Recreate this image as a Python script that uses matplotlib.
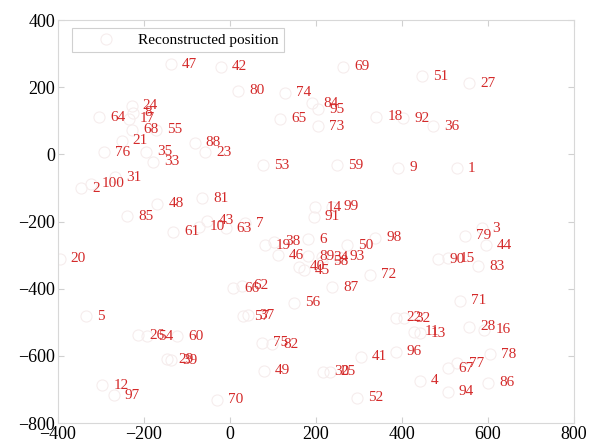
import matplotlib
matplotlib.use('Agg')
import matplotlib.pyplot as plt

plt.rcParams['font.family'] = ['Liberation Serif', 'DejaVu Serif']

# Reconstructed node positions, node ids 1..100
ids = list(range(1, 101))
xs = [527, -347, 585, 442, -334, 182, 35, -226, 391, -72,
      428, -297, 441, 198, 508, 591, -235, 340, 81, -396,
      -252, 385, -57, -229, 232, -213, 556, 556, -146, 217,
      -268, 405, -178, 215, -196, 473, 42, 102, -138, 160,
      304, -22, -53, 595, 172, 112, -138, -169, 79, 271,
      447, 296, 77, -192, -173, 148, 31, 215, 248, -123,
      -132, 29, -10, -305, 116, 8, 506, -227, 263, -30,
      535, 326, 205, 127, 75, -293, 529, 605, 547, 19,
      -65, 98, 577, 191, -239, 600, 238, -82, 182, 484,
      195, 403, 253, 506, 205, 385, -270, 337, 238, -324]
ys = [-42, -101, -220, -674, -482, -253, -205, 124, -40, -216,
      -528, -687, -533, -158, -310, -523, 106, 112, -270, -311,
      40, -487, 7, 144, -647, -538, 211, -513, -610, -648,
      -68, -488, -22, -307, 8, 84, -479, -260, -613, -335,
      -603, 261, -198, -270, -345, -300, 268, -147, -645, -270,
      233, -725, -32, -541, 74, -442, -482, -320, -32, -541,
      -230, -392, -220, 110, 106, -399, -637, 74, 261, -730,
      -436, -359, 84, 183, -561, 7, -622, -595, -243, 189,
      -131, -565, -333, 152, -184, -680, -396, 35, -303, -313,
      -186, 107, -305, -707, 134, -588, -717, -248, -156, -88]

fig = plt.figure(figsize=(5.94, 4.45), dpi=100)
ax = fig.add_axes([0.0976, 0.0494, 0.8687, 0.9056])

# markers are barely visible in the reference
ax.plot(xs, ys, 'o', linestyle='none', markersize=8, markerfacecolor='none',
        markeredgecolor='#f6eded', markeredgewidth=0.8, label='Reconstructed position')

for i, x, y in zip(ids, xs, ys):
    ax.annotate(str(i), (x, y), xytext=(8, 0), textcoords='offset points',
                ha='left', va='center', fontsize=11, color='#d42a2a')

ax.set_xlim(-400, 800)
ax.set_ylim(-800, 400)
ax.set_xticks(range(-400, 801, 200))
ax.set_yticks(range(-800, 401, 200))
ax.tick_params(direction='in', top=True, right=True, length=4, color='#d0d0d0',
               labelsize=13, labelcolor='black', pad=2)
for s in ax.spines.values():
    s.set_color('#d8d8d8')
    s.set_linewidth(0.8)

leg = ax.legend(loc='upper left', bbox_to_anchor=(0.027, 0.98), borderaxespad=0,
                fontsize=11, handlelength=3.8, handletextpad=0.2, borderpad=0.35,
                fancybox=False, framealpha=1, numpoints=1)
leg.get_frame().set_edgecolor('#d0d0d0')
leg.get_frame().set_linewidth(0.8)

fig.savefig('out.png', dpi=100)
